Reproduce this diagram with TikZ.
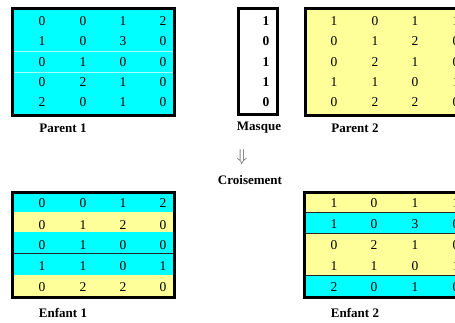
\documentclass[tikz,border=0pt]{standalone}
\usepackage{fontspec}
\setmainfont{Liberation Serif}
\definecolor{cellcyan}{RGB}{0,255,255}
\definecolor{cellyellow}{RGB}{255,255,153}
\definecolor{sepcyan}{RGB}{170,255,255}
\begin{document}
\begin{tikzpicture}[x=1pt,y=-1pt,
  digit/.style={inner sep=0pt,font=\fontsize{13.5}{15}\selectfont},
  maskdigit/.style={inner sep=0pt,font=\fontsize{13.5}{15}\selectfont\bfseries},
  caption/.style={inner sep=0pt,font=\fontsize{13}{15}\selectfont\bfseries},
  frame/.style={draw=black,line width=3pt},
  rowsep/.style={draw=black!85,line width=0.8pt}]
\clip (0,0) rectangle (455,322);
\fill[white] (0,0) rectangle (455,322);
% ---------- Parent 1 ----------
\fill[cellcyan] (12.5,8.5) rectangle (174.5,115.5);
\draw[sepcyan,line width=0.8pt] (14,51) -- (173,51);
\draw[sepcyan,line width=0.8pt] (14,72) -- (173,72);
\draw[frame] (12.5,8.5) rectangle (174.5,115.5);
\foreach \r/\y/\a/\b/\c/\d in {1/21.5/0/0/1/2, 2/41.5/1/0/3/0, 3/62/0/1/0/0, 4/82/0/2/1/0, 5/102/2/0/1/0} {
  \node[digit] (pa-\r-1) at (42,\y) {\a};
  \node[digit] (pa-\r-2) at (83,\y) {\b};
  \node[digit] (pa-\r-3) at (123,\y) {\c};
  \node[digit] (pa-\r-4) at (163,\y) {\d};
}
\node[caption] (lp1) at (63,128) {Parent 1};
% ---------- Masque ----------
\fill[white] (238.5,8.5) rectangle (277.5,114.5);
\draw[frame] (238.5,8.5) rectangle (277.5,114.5);
\foreach \r/\y/\v in {1/21.5/1, 2/41.5/0, 3/62/1, 4/82/1, 5/102/0} {
  \node[maskdigit] (m-\r) at (266,\y) {\v};
}
\node[caption] (lm) at (259,128) {Masque};
% ---------- Parent 2 ----------
\fill[cellyellow] (305.5,8.5) rectangle (467.5,115.5);
\draw[frame] (305.5,8.5) rectangle (467.5,115.5);
\foreach \r/\y/\a/\b/\c/\d in {1/21.5/1/0/1/1, 2/41.5/0/1/2/0, 3/62/0/2/1/0, 4/82/1/1/0/1, 5/102/0/2/2/0} {
  \node[digit] (pb-\r-1) at (334,\y) {\a};
  \node[digit] (pb-\r-2) at (375,\y) {\b};
  \node[digit] (pb-\r-3) at (415,\y) {\c};
  \node[digit] (pb-\r-4) at (456,\y) {\d};
}
\node[caption] (lp2) at (355,128) {Parent 2};
% ---------- Croisement ----------
\node[inner sep=0pt,text=black!65,font=\fontsize{19}{21}\selectfont] (arr) at (242,157) {$\Downarrow$};
\node[caption] (lc) at (250,180) {Croisement};
% ---------- Enfant 1 ----------
\fill[cellcyan]   (12.5,192.5) rectangle (174.5,211.5);
\fill[cellyellow] (12.5,211.5) rectangle (174.5,232);
\fill[cellcyan]   (12.5,232) rectangle (174.5,274.5);
\fill[cellyellow] (12.5,274.5) rectangle (174.5,297.5);
\draw[rowsep] (14,253.5) -- (173,253.5);
\draw[frame] (12.5,192.5) rectangle (174.5,297.5);
\foreach \r/\y/\a/\b/\c/\d in {1/203.5/0/0/1/2, 2/225/0/1/2/0, 3/245/0/1/0/0, 4/266/1/1/0/1, 5/287/0/2/2/0} {
  \node[digit] (ea-\r-1) at (42,\y) {\a};
  \node[digit] (ea-\r-2) at (83,\y) {\b};
  \node[digit] (ea-\r-3) at (123,\y) {\c};
  \node[digit] (ea-\r-4) at (163,\y) {\d};
}
\node[caption] (le1) at (63,313) {Enfant 1};
% ---------- Enfant 2 ----------
\fill[cellyellow] (304.5,192.5) rectangle (467.5,212);
\fill[cellcyan]   (304.5,212) rectangle (467.5,233);
\fill[cellyellow] (304.5,233) rectangle (467.5,275);
\fill[cellcyan]   (304.5,275) rectangle (467.5,297.5);
\draw[rowsep] (306,212) -- (466,212);
\draw[rowsep] (306,233) -- (466,233);
\draw[rowsep] (306,275) -- (466,275);
\draw[frame] (304.5,192.5) rectangle (467.5,297.5);
\foreach \r/\y/\a/\b/\c/\d in {1/203.5/1/0/1/1, 2/224/1/0/3/0, 3/245/0/2/1/0, 4/266/1/1/0/1, 5/287/2/0/1/0} {
  \node[digit] (eb-\r-1) at (334,\y) {\a};
  \node[digit] (eb-\r-2) at (374,\y) {\b};
  \node[digit] (eb-\r-3) at (415,\y) {\c};
  \node[digit] (eb-\r-4) at (456,\y) {\d};
}
\node[caption] (le2) at (355,313) {Enfant 2};
\end{tikzpicture}
\end{document}
